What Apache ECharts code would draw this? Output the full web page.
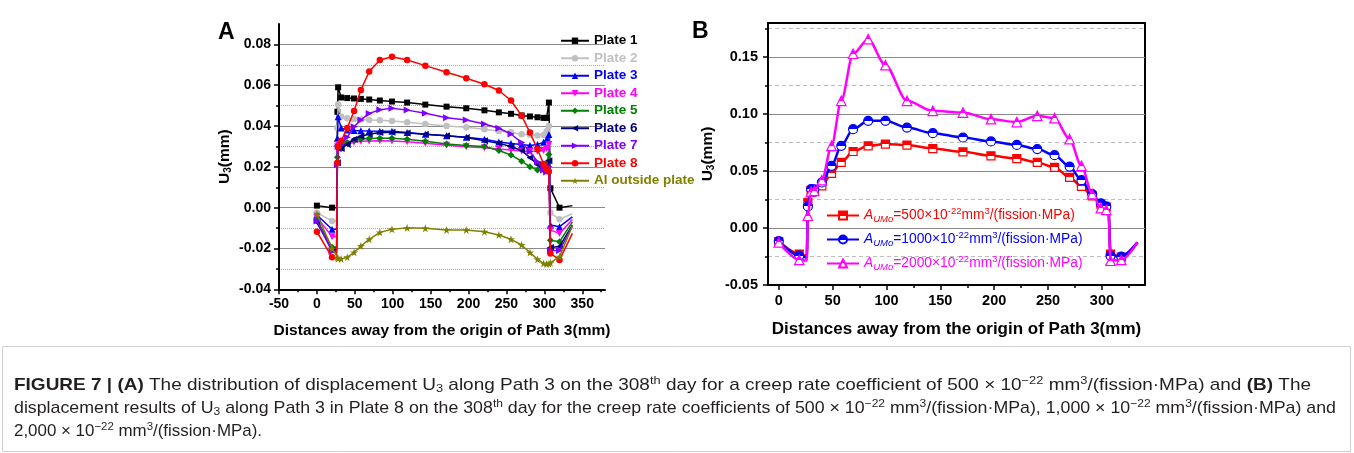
<!DOCTYPE html>
<html>
<head>
<meta charset="utf-8">
<title>Figure 7</title>
<script src="https://cdn.jsdelivr.net/npm/echarts@6.0.0/dist/echarts.min.js"></script>
<style>
html,body{margin:0;padding:0;background:#fff;}
#chart{width:1354px;height:453px;}
</style>
</head>
<body>
<div id="chart"></div>
<script>
// ---------------- Panel A data (U3 along Path 3, A = 500e-22) ----------------
const xA = [0, 20, 26, 27, 28, 32, 40, 49, 58, 69, 83, 99, 119, 143, 171, 197, 221, 240, 256, 270, 281, 291, 299, 303, 306, 308, 320, 337];
const plate1 = [0.001, 0.000, 0.000, 0.047, 0.059, 0.054, 0.0537, 0.0535, 0.0533, 0.053, 0.0525, 0.052, 0.0515, 0.0505, 0.0495, 0.0487, 0.0477, 0.0467, 0.046, 0.0452, 0.0447, 0.0443, 0.044, 0.044, 0.0515, 0.0095, 0.000, 0.001];
const plate2 = [-0.0025, -0.0065, -0.0065, 0.039, 0.0505, 0.0446, 0.0438, 0.0435, 0.0432, 0.043, 0.0428, 0.0425, 0.0418, 0.041, 0.040, 0.0394, 0.0384, 0.0376, 0.037, 0.036, 0.0357, 0.0354, 0.0356, 0.0375, 0.040, -0.0025, -0.0057, -0.003];
const plate3 = [-0.0036, -0.0106, -0.0106, 0.034, 0.0445, 0.039, 0.038, 0.0378, 0.0377, 0.0376, 0.0375, 0.0374, 0.0368, 0.036, 0.0352, 0.0345, 0.0335, 0.0322, 0.0315, 0.031, 0.0305, 0.031, 0.032, 0.0335, 0.0358, -0.0085, -0.0093, -0.0045];
const plate4 = [-0.0047, -0.0142, -0.0142, 0.029, 0.031, 0.030, 0.0312, 0.032, 0.0325, 0.0327, 0.0328, 0.0327, 0.0323, 0.0316, 0.0306, 0.0299, 0.0293, 0.0287, 0.0283, 0.0278, 0.0275, 0.0276, 0.028, 0.029, 0.031, -0.011, -0.0126, -0.0058];
const plate5 = [-0.006, -0.0194, -0.0194, 0.0247, 0.030, 0.0305, 0.0318, 0.033, 0.0336, 0.0339, 0.034, 0.034, 0.0335, 0.0325, 0.0312, 0.0305, 0.030, 0.028, 0.0258, 0.0228, 0.020, 0.0185, 0.020, 0.022, 0.026, -0.016, -0.0167, -0.007];
const plate6 = [-0.0073, -0.0207, -0.0207, 0.022, 0.029, 0.029, 0.031, 0.0335, 0.035, 0.036, 0.0368, 0.037, 0.0366, 0.036, 0.0352, 0.0344, 0.0328, 0.0315, 0.030, 0.028, 0.0245, 0.021, 0.018, 0.0175, 0.023, -0.0195, -0.019, -0.0085];
const plate7 = [-0.0065, -0.0215, -0.0215, 0.021, 0.030, 0.031, 0.0345, 0.0397, 0.043, 0.0462, 0.048, 0.0487, 0.0478, 0.0463, 0.0441, 0.043, 0.041, 0.0389, 0.0361, 0.0319, 0.0275, 0.0225, 0.0185, 0.0175, 0.020, -0.021, -0.021, -0.009];
const plate8 = [-0.0118, -0.0243, -0.025, 0.022, 0.030, 0.0328, 0.039, 0.0474, 0.0577, 0.0667, 0.0724, 0.074, 0.0724, 0.0696, 0.0664, 0.0634, 0.0605, 0.0574, 0.0525, 0.0451, 0.0368, 0.0286, 0.0214, 0.019, 0.0177, -0.0224, -0.0256, -0.0126];
const alOutside = [-0.003, -0.020, -0.0235, -0.0245, -0.025, -0.0251, -0.0243, -0.0219, -0.0188, -0.0155, -0.0121, -0.0106, -0.0099, -0.0101, -0.0109, -0.0109, -0.0118, -0.0134, -0.0155, -0.0183, -0.022, -0.0253, -0.0273, -0.0276, -0.0275, -0.027, -0.024, -0.009];
const namesA = ['Plate 1', 'Plate 2', 'Plate 3', 'Plate 4', 'Plate 5', 'Plate 6', 'Plate 7', 'Plate 8', 'Al outside plate'];
const noMarkA = [26, 337];
const xTicksA = [-50, 0, 50, 100, 150, 200, 250, 300, 350];
const xMinorTicksA = [-25, 25, 75, 125, 175, 225, 275, 325, 375];
const yTicksA = [-0.04, -0.02, 0, 0.02, 0.04, 0.06, 0.08];
const yMinorTicksA = [-0.03, -0.01, 0.01, 0.03, 0.05, 0.07];

// ---------------- Panel B data (Plate 8, three creep coefficients) ----------------
const xB = [0, 19, 26, 27, 30, 33, 40, 49, 58, 69, 83, 99, 119, 143, 171, 197, 221, 240, 256, 270, 281, 291, 299, 304, 306, 308, 318, 333];
const aumo500 = [-0.0118, -0.0228, -0.0245, 0.0225, 0.033, 0.0333, 0.037, 0.048, 0.0576, 0.0672, 0.0722, 0.0737, 0.0728, 0.0698, 0.0669, 0.0634, 0.061, 0.0576, 0.0532, 0.0444, 0.0365, 0.0283, 0.021, 0.0185, 0.018, -0.0228, -0.0255, -0.0126];
const aumo1000 = [-0.0115, -0.0243, -0.026, 0.019, 0.0342, 0.034, 0.040, 0.0546, 0.0722, 0.0868, 0.0941, 0.0941, 0.0882, 0.0833, 0.0795, 0.076, 0.073, 0.0693, 0.064, 0.054, 0.042, 0.0298, 0.0216, 0.019, 0.018, -0.0243, -0.025, -0.0126];
const aumo2000 = [-0.0126, -0.028, -0.0285, 0.0108, 0.032, 0.0327, 0.042, 0.0722, 0.1117, 0.153, 0.1658, 0.143, 0.1117, 0.1029, 0.1014, 0.0956, 0.093, 0.0985, 0.0965, 0.078, 0.0546, 0.0298, 0.0175, 0.016, 0.015, -0.0287, -0.028, -0.0126];
const namesB = ['AUMo=500', 'AUMo=1000', 'AUMo=2000'];
const coefB = ['500', '1000', '2000'];
const noMarkB = [26, 306, 333];
const xTicksB = [0, 50, 100, 150, 200, 250, 300];
const xMinorTicksB = [25, 75, 125, 175, 225, 275, 325];
const yTicksB = [-0.05, 0, 0.05, 0.10, 0.15];
const yMinorTicksB = [-0.025, 0.025, 0.075, 0.125, 0.175];

// ---------------- Caption text ----------------
const captionLines = [
  [['b', 'FIGURE 7 | (A)'], ['n', ' The distribution of displacement U'], ['s', '3'], ['n', ' along Path 3 on the 308'], ['p', 'th'], ['n', ' day for a creep rate coefficient of 500 × 10'], ['p', '−22'], ['n', ' mm'], ['p', '3'], ['n', '/(fission·MPa) and '], ['b', '(B)'], ['n', ' The']],
  [['n', 'displacement results of U'], ['s', '3'], ['n', ' along Path 3 in Plate 8 on the 308'], ['p', 'th'], ['n', ' day for the creep rate coefficients of 500 × 10'], ['p', '−22'], ['n', ' mm'], ['p', '3'], ['n', '/(fission·MPa), 1,000 × 10'], ['p', '−22'], ['n', ' mm'], ['p', '3'], ['n', '/(fission·MPa) and']],
  [['n', '2,000 × 10'], ['p', '−22'], ['n', ' mm'], ['p', '3'], ['n', '/(fission·MPa).']]
];

// ---------------- Styling ----------------
const FONT = '"Liberation Sans", Arial, Helvetica, sans-serif';
const STAR = 'path://M50,0L61.2,34.5L97.6,34.5L68.2,55.9L79.4,90.5L50,69.1L20.6,90.5L31.8,55.9L2.4,34.5L38.8,34.5Z';
const styleA = [
  { color: '#000000', symbol: 'rect', size: 6, rotate: 0 },
  { color: '#c0c0c0', symbol: 'circle', size: 6.5, rotate: 0 },
  { color: '#0000ff', symbol: 'triangle', size: 7, rotate: 0 },
  { color: '#ff00ff', symbol: 'triangle', size: 7, rotate: 180 },
  { color: '#008000', symbol: 'diamond', size: 7, rotate: 0 },
  { color: '#000080', symbol: 'triangle', size: 7, rotate: 90 },
  { color: '#8000ff', symbol: 'triangle', size: 7, rotate: -90 },
  { color: '#ff0000', symbol: 'circle', size: 6.5, rotate: 0 },
  { color: '#808000', symbol: STAR, size: 8, rotate: 0 }
];
const styleB = [
  { color: '#ff0000', symbol: 'rect', size: 8 },
  { color: '#0000ff', symbol: 'circle', size: 9 },
  { color: '#ff00ff', symbol: 'triangle', size: 9.5 }
];
const valuesA = [plate1, plate2, plate3, plate4, plate5, plate6, plate7, plate8, alOutside];
const valuesB = [aumo500, aumo1000, aumo2000];

function toPoints(xs, ys, hidden) {
  return xs.map((x, i) => hidden.indexOf(x) >= 0 ? { value: [x, ys[i]], symbol: 'none' } : [x, ys[i]]);
}
function halfFill(c) {
  return { type: 'linear', x: 0, y: 0, x2: 0, y2: 1,
    colorStops: [{ offset: 0, color: c }, { offset: 0.5, color: c }, { offset: 0.5, color: '#ffffff' }, { offset: 1, color: '#ffffff' }] };
}

const seriesA = valuesA.map((ys, i) => ({
  type: 'line', name: namesA[i], xAxisIndex: 0, yAxisIndex: 0,
  data: toPoints(xA, ys, noMarkA),
  symbol: styleA[i].symbol, symbolSize: styleA[i].size, symbolRotate: styleA[i].rotate,
  showAllSymbol: true,
  lineStyle: { color: styleA[i].color, width: 1.5 },
  itemStyle: { color: styleA[i].color },
  emphasis: { disabled: true }, silent: true, z: 3 + i
}));
const seriesB = valuesB.map((ys, i) => ({
  type: 'line', name: namesB[i], xAxisIndex: 2, yAxisIndex: 2,
  data: toPoints(xB, ys, noMarkB),
  symbol: styleB[i].symbol, symbolSize: styleB[i].size,
  showAllSymbol: true, smooth: 0.3, smoothMonotone: 'x',
  lineStyle: { color: styleB[i].color, width: 2.5 },
  itemStyle: { color: halfFill(styleB[i].color), borderColor: styleB[i].color, borderWidth: 1.2 },
  emphasis: { disabled: true }, silent: true, z: 3 + i
}));

const black = '#000';
function mainX(gi, min, max, ticks, fs, nameFs, gap) {
  return { gridIndex: gi, type: 'value', position: 'bottom', min: min, max: max,
    axisLine: { show: true, onZero: false, lineStyle: { color: black, width: 2 } },
    axisTick: { show: true, customValues: ticks, length: 5, lineStyle: { color: black, width: 1.5 } },
    axisLabel: { show: true, customValues: ticks, color: black, fontSize: fs, fontWeight: 'bold', fontFamily: FONT, margin: 8 },
    splitLine: { show: false },
    name: 'Distances away from the origin of Path 3(mm)', nameLocation: 'middle', nameGap: gap, nameMoveOverlap: false,
    nameTextStyle: { color: black, fontSize: nameFs, fontWeight: 'bold', fontFamily: FONT } };
}
function minorX(gi, min, max, ticks) {
  return { gridIndex: gi, type: 'value', position: 'bottom', min: min, max: max,
    axisLine: { show: false, onZero: false },
    axisTick: { show: true, customValues: ticks, length: 3, lineStyle: { color: black, width: 1.5 } },
    axisLabel: { show: false }, splitLine: { show: false } };
}
function yName(fs) {
  return { color: black, fontFamily: FONT, fontWeight: 'bold',
    rich: {
      u: { fontSize: fs, fontWeight: 'bold', fontFamily: FONT, color: black, lineHeight: fs + 2, verticalAlign: 'middle' },
      d: { fontSize: Math.round(fs * 0.62), fontWeight: 'bold', fontFamily: FONT, color: black, lineHeight: Math.round(fs * 0.5), verticalAlign: 'bottom' }
    } };
}
function mainY(gi, min, max, ticks, fs, gap, margin, gridColor) {
  return { gridIndex: gi, type: 'value', position: 'left', min: min, max: max,
    axisLine: { show: true, onZero: false, lineStyle: { color: black, width: 2 } },
    axisTick: { show: true, customValues: ticks, length: 5, lineStyle: { color: black, width: 1.5 } },
    axisLabel: { show: true, customValues: ticks, color: black, fontSize: fs, fontWeight: 'bold', fontFamily: FONT, margin: margin,
      formatter: v => v.toFixed(2) },
    splitLine: { show: true, lineStyle: { color: gridColor, width: 1, type: 'solid' } },
    name: '{u|U}{d|3}{u|(mm)}', nameLocation: 'middle', nameGap: gap, nameRotate: 90, nameMoveOverlap: false,
    nameTextStyle: yName(15.5) };
}
function minorY(gi, min, max, ticks, lineType, color) {
  return { gridIndex: gi, type: 'value', position: 'left', min: min, max: max,
    axisLine: { show: false, onZero: false },
    axisTick: { show: true, customValues: ticks, length: 3, lineStyle: { color: black, width: 1.5 } },
    axisLabel: { show: false },
    splitLine: { show: true, lineStyle: { color: color, width: 1, type: lineType } } };
}

// legend B rich styles
const richB = {};
styleB.forEach((s, i) => {
  richB['a' + i] = { color: s.color, fontSize: 13.8, fontStyle: 'italic', fontFamily: FONT, lineHeight: 18, verticalAlign: 'middle' };
  richB['s' + i] = { color: s.color, fontSize: 9.5, fontStyle: 'italic', fontFamily: FONT, lineHeight: 9, verticalAlign: 'bottom' };
  richB['n' + i] = { color: s.color, fontSize: 13.8, fontFamily: FONT, lineHeight: 18, verticalAlign: 'middle' };
  richB['p' + i] = { color: s.color, fontSize: 9.5, fontFamily: FONT, lineHeight: 9, verticalAlign: 'top' };
});

// caption layout
const capStyles = {
  n: { fontSize: 17, fontWeight: 'normal', fontFamily: FONT, fill: '#231f20', lineHeight: 20, verticalAlign: 'middle' },
  b: { fontSize: 17, fontWeight: 'bold', fontFamily: FONT, fill: '#231f20', lineHeight: 20, verticalAlign: 'middle' },
  p: { fontSize: 11.5, fontWeight: 'normal', fontFamily: FONT, fill: '#231f20', lineHeight: 11, verticalAlign: 'top' },
  s: { fontSize: 11.5, fontWeight: 'normal', fontFamily: FONT, fill: '#231f20', lineHeight: 9, verticalAlign: 'bottom' }
};
const capTargets = [1297, 1322, 248];
const capY = [385, 408, 431];
const mctx = document.createElement('canvas').getContext('2d');
function segWidth(segs) {
  let w = 0;
  segs.forEach(([k, t]) => {
    const st = capStyles[k];
    mctx.font = st.fontWeight + ' ' + st.fontSize + 'px ' + FONT;
    w += mctx.measureText(t).width;
  });
  return w;
}
const captionGraphics = captionLines.map((segs, i) => ({
  type: 'text', x: 14, y: capY[i], scaleX: capTargets[i] / segWidth(segs), silent: true,
  style: { text: segs.map(([k, t]) => '{' + k + '|' + t + '}').join(''), rich: capStyles,
    fontSize: 17, fontFamily: FONT, fill: '#231f20', verticalAlign: 'middle', align: 'left' }
}));

const option = {
  animation: false,
  backgroundColor: '#fff',
  textStyle: { fontFamily: FONT },
  grid: [
    { left: 279, top: 24, width: 326, height: 265.3, containLabel: false, outerBoundsMode: 'none' },
    { left: 768, top: 23, width: 377, height: 262, containLabel: false, outerBoundsMode: 'none',
      show: true, borderColor: '#000', borderWidth: 2, backgroundColor: 'transparent' }
  ],
  xAxis: [
    mainX(0, -50, 380, xTicksA, 14, 15.5, 33),
    minorX(0, -50, 380, xMinorTicksA),
    mainX(1, -10, 340, xTicksB, 14.5, 17, 36),
    minorX(1, -10, 340, xMinorTicksB)
  ],
  yAxis: [
    mainY(0, -0.04, 0.09, yTicksA, 14, 46, 8, '#8a8a8a'),
    minorY(0, -0.04, 0.09, yMinorTicksA, 'dotted', '#a8a8a8'),
    mainY(1, -0.05, 0.18, yTicksB, 14.5, 52, 10, '#8a8a8a'),
    minorY(1, -0.05, 0.18, yMinorTicksB, [4, 3], '#bdbdbd')
  ],
  legend: [
    { data: namesA.map((n, i) => ({ name: n, textStyle: { color: styleA[i].color } })),
      orient: 'vertical', left: 560, top: 33.5, padding: 0, itemGap: 3, itemWidth: 28, itemHeight: 8,
      selectedMode: false,
      textStyle: { fontSize: 13.5, fontWeight: 'bold', fontFamily: FONT, lineHeight: 14.5 } },
    { data: namesB, orient: 'vertical', left: 826, top: 206.5, padding: 0, itemGap: 6, itemWidth: 32, itemHeight: 10,
      selectedMode: false,
      formatter: name => {
        const i = namesB.indexOf(name);
        return '{a' + i + '|A}{s' + i + '|UMo}{n' + i + '|=' + coefB[i] + '×10}{p' + i + '|-22}{n' + i + '|mm}{p' + i + '|3}{n' + i + '|/(fission·MPa)}';
      },
      textStyle: { fontSize: 13.8, fontFamily: FONT, rich: richB } }
  ],
  graphic: [
    { type: 'text', left: 218, top: 21, silent: true, style: { text: 'A', font: 'bold 23px ' + FONT, fill: '#000' } },
    { type: 'text', left: 692, top: 20, silent: true, style: { text: 'B', font: 'bold 23px ' + FONT, fill: '#000' } },
    { type: 'rect', shape: { x: 2.5, y: 346.5, width: 1348, height: 105 }, silent: true,
      style: { fill: 'none', stroke: '#cfcfcf', lineWidth: 1 } }
  ].concat(captionGraphics),
  series: seriesA.concat(seriesB)
};

const chart = echarts.init(document.getElementById('chart'), null, { renderer: 'canvas' });
chart.setOption(option);
</script>
</body>
</html>
